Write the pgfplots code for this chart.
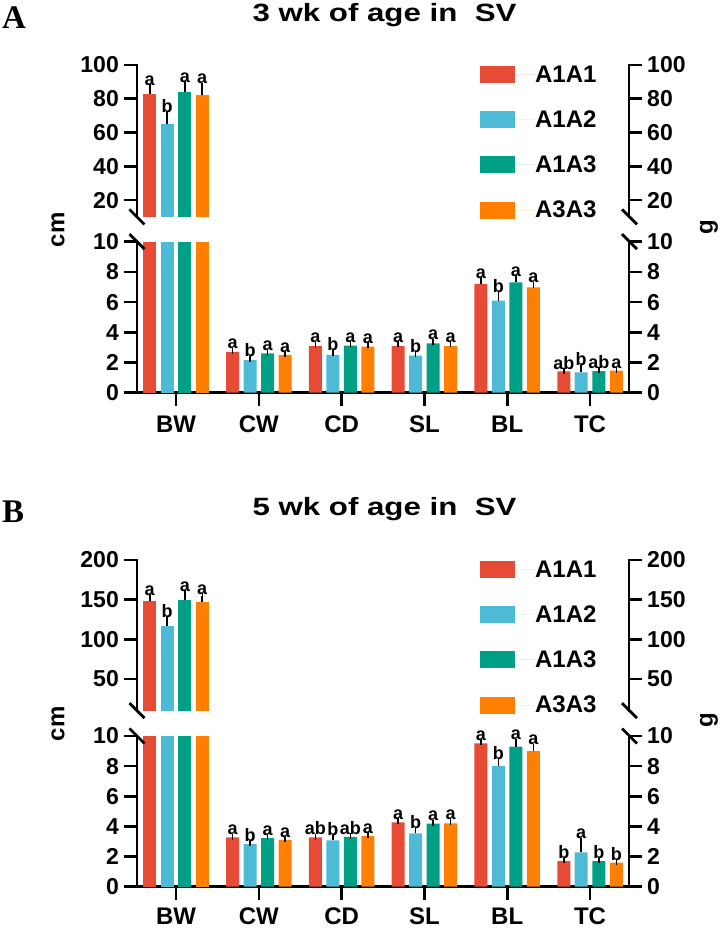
\documentclass[border=0pt]{standalone}
\usepackage{fontspec}
\setmainfont{Liberation Sans}
\newfontfamily\titlefont[FakeStretch=1.25]{Liberation Sans}
\newfontfamily\serifbold{Liberation Serif}
\usepackage{pgfplots}
\usepackage{pgfplotstable}
\pgfplotsset{compat=1.18}

\definecolor{cR}{HTML}{E64B35}
\definecolor{cB}{HTML}{4DBBD5}
\definecolor{cG}{HTML}{00A087}
\definecolor{cO}{HTML}{FF8000}

% 3 wk of age: mean, upper error, letter
\pgfplotstableread{
x r re rl b be bl g ge gl o oe ol
0 82.8 4.0 a 65.0 5.8 b 84.2 4.3 a 82.2 5.6 a
1 2.71 0.06 a 2.16 0.10 b 2.60 0.06 a 2.50 0.07 a
2 3.09 0.10 a 2.50 0.15 b 3.11 0.10 a 3.05 0.10 a
3 3.09 0.12 a 2.45 0.08 b 3.27 0.10 a 3.09 0.12 a
4 7.20 0.25 a 6.09 0.40 b 7.30 0.27 a 6.98 0.17 a
5 1.41 0.03 ab 1.35 0.30 b 1.43 0.04 ab 1.46 0.05 a
}\tabA
% 5 wk of age
\pgfplotstableread{
x r re rl b be bl g ge gl o oe ol
0 147.7 5.6 a 116.2 9.4 b 149.9 8.4 a 146.5 7.5 a
1 3.27 0.04 a 2.83 0.05 b 3.23 0.07 a 3.10 0.05 a
2 3.27 0.04 ab 3.07 0.20 b 3.30 0.05 ab 3.36 0.04 a
3 4.27 0.08 a 3.54 0.20 b 4.18 0.08 a 4.20 0.12 a
4 9.51 0.09 a 8.01 0.33 b 9.29 0.33 a 9.00 0.29 a
5 1.70 0.04 b 2.28 0.77 a 1.70 0.04 b 1.59 0.04 b
}\tabB

\newcommand\tk{\fontsize{23}{23}\selectfont\bfseries}
\newcommand\cat{\fontsize{24}{24}\selectfont\bfseries}
\newcommand\lb{\fontsize{18}{18}\selectfont\bfseries}

\pgfplotsset{
  seg/.style={scale only axis, width=492pt, xmin=-0.471, xmax=5.471,
    anchor=south west, tick align=outside, major tick length=13pt,
    tick style={black, line width=2.6pt},
    axis line style={black, line width=2.8pt, line cap=rect},
    every outer x axis line/.append style={-},
    every outer y axis line/.append style={-},
    tick label style={font=\tk, inner sep=0pt},
    yticklabel shift=5pt, xticklabel shift=10pt,
    /pgf/number format/assume math mode=true,
    ybar, bar width=0.157},
  leg/.style={
    legend style={at={(rel axis cs:0.697,0.995)}, anchor=north west,
      draw=none, fill=none, inner sep=0pt, row sep=26.8pt,
      font=\cat, nodes={inner sep=0pt}, cells={anchor=west}}},
}

% bars with upper error bars and letters
\newcommand\errbars[5]{%
  \addplot[fill=#3, draw=none, bar shift=#4,
    error bars/.cd, y dir=plus, y explicit,
    error bar style={black, line width=1.5pt},
    error mark options={black, line width=1.5pt, mark size=3pt}]
    table[x=x, y=#2, y error=#2e, restrict x to domain=#5] {#1};
  \addplot[draw=none, fill=none, bar shift=#4, forget plot,
    nodes near coords, point meta=explicit symbolic,
    nodes near coords style={font=\lb, text=black, anchor=south, inner sep=1.5pt}]
    table[x=x, y expr=\thisrow{#2}+\thisrow{#2e}, meta=#2l, restrict x to domain=#5] {#1};
}
% BW bars in the lower segment, cut at the break
\newcommand\clampbar[4]{%
  \addplot[fill=#3, draw=none, bar shift=#4, forget plot]
    table[x=x, y expr={min(\thisrow{#2},10)}, restrict x to domain=0:0] {#1};
}

\begin{document}
\begin{tikzpicture}
\useasboundingbox (0pt,0pt) rectangle (722pt,928pt);

% ---------------- A ----------------
\node[anchor=base west, inner sep=0pt, font=\fontsize{33}{33}\serifbold\bfseries] at (2pt,899pt) {A};
\node[anchor=base, inner sep=0pt, font=\fontsize{25}{25}\titlefont\bfseries] at (384.5pt,906pt) {3 wk of age in\ \ SV};

\begin{axis}[seg, leg, at={(137pt,711pt)}, height=152pt, ymin=10, ymax=100,
  ytick={20,40,...,100}, axis y line*=left, axis x line=none,
  legend image code/.code={\fill[#1] (0pt,-8.5pt) rectangle (35pt,8.5pt); \path (0pt,0pt) -- (55pt,0pt);}]
\errbars{\tabA}{r}{cR}{-0.317}{0:0}
\errbars{\tabA}{b}{cB}{-0.106}{0:0}
\errbars{\tabA}{g}{cG}{0.106}{0:0}
\errbars{\tabA}{o}{cO}{0.317}{0:0}
\legend{A1A1,A1A2,A1A3,A3A3}
\end{axis}
\begin{axis}[seg, at={(137pt,711pt)}, height=152pt, ymin=10, ymax=100,
  ytick={20,40,...,100}, axis y line*=right, axis x line=none]
\end{axis}

\begin{axis}[seg, at={(137pt,535.3pt)}, height=151pt, ymin=0, ymax=10,
  ytick={0,2,...,10}, axis y line*=left, axis x line*=bottom,
  xtick={0,...,5}, xticklabels={BW,CW,CD,SL,BL,TC},
  xticklabel style={font=\cat}, clip=false]
\clampbar{\tabA}{r}{cR}{-0.317}
\clampbar{\tabA}{b}{cB}{-0.106}
\clampbar{\tabA}{g}{cG}{0.106}
\clampbar{\tabA}{o}{cO}{0.317}
\errbars{\tabA}{r}{cR}{-0.317}{1:5}
\errbars{\tabA}{b}{cB}{-0.106}{1:5}
\errbars{\tabA}{g}{cG}{0.106}{1:5}
\errbars{\tabA}{o}{cO}{0.317}{1:5}
\end{axis}
\begin{axis}[seg, at={(137pt,535.3pt)}, height=151pt, ymin=0, ymax=10,
  ytick={0,2,...,10}, axis y line*=right, axis x line=none]
\end{axis}

\foreach \y in {711,686.3} {
  \draw[line width=2.8pt] (129.5pt,\y pt+7.5pt) -- (144.5pt,\y pt-7.5pt);
  \draw[line width=2.8pt] (622pt,\y pt+7.5pt) -- (637pt,\y pt-7.5pt);
}
\node[rotate=90, font=\cat] at (58pt,698pt) {cm};
\node[rotate=90, font=\cat] at (709pt,701pt) {g};

% ---------------- B ----------------
\node[anchor=base west, inner sep=0pt, font=\fontsize{33}{33}\serifbold\bfseries] at (2pt,405pt) {B};
\node[anchor=base, inner sep=0pt, font=\fontsize{25}{25}\titlefont\bfseries] at (384.5pt,412pt) {5 wk of age in\ \ SV};

\begin{axis}[seg, leg, at={(137pt,217.3pt)}, height=150.7pt, ymin=10, ymax=200,
  ytick={50,100,150,200}, axis y line*=left, axis x line=none,
  legend image code/.code={\fill[#1] (0pt,-8.5pt) rectangle (35pt,8.5pt); \path (0pt,0pt) -- (55pt,0pt);}]
\errbars{\tabB}{r}{cR}{-0.317}{0:0}
\errbars{\tabB}{b}{cB}{-0.106}{0:0}
\errbars{\tabB}{g}{cG}{0.106}{0:0}
\errbars{\tabB}{o}{cO}{0.317}{0:0}
\legend{A1A1,A1A2,A1A3,A3A3}
\end{axis}
\begin{axis}[seg, at={(137pt,217.3pt)}, height=150.7pt, ymin=10, ymax=200,
  ytick={50,100,150,200}, axis y line*=right, axis x line=none]
\end{axis}

\begin{axis}[seg, at={(137pt,41.3pt)}, height=150.7pt, ymin=0, ymax=10,
  ytick={0,2,...,10}, axis y line*=left, axis x line*=bottom,
  xtick={0,...,5}, xticklabels={BW,CW,CD,SL,BL,TC},
  xticklabel style={font=\cat}, xticklabel shift=8pt, clip=false]
\clampbar{\tabB}{r}{cR}{-0.317}
\clampbar{\tabB}{b}{cB}{-0.106}
\clampbar{\tabB}{g}{cG}{0.106}
\clampbar{\tabB}{o}{cO}{0.317}
\errbars{\tabB}{r}{cR}{-0.317}{1:5}
\errbars{\tabB}{b}{cB}{-0.106}{1:5}
\errbars{\tabB}{g}{cG}{0.106}{1:5}
\errbars{\tabB}{o}{cO}{0.317}{1:5}
\end{axis}
\begin{axis}[seg, at={(137pt,41.3pt)}, height=150.7pt, ymin=0, ymax=10,
  ytick={0,2,...,10}, axis y line*=right, axis x line=none]
\end{axis}

\foreach \y in {217.3,192} {
  \draw[line width=2.8pt] (129.5pt,\y pt+7.5pt) -- (144.5pt,\y pt-7.5pt);
  \draw[line width=2.8pt] (622pt,\y pt+7.5pt) -- (637pt,\y pt-7.5pt);
}
\node[rotate=90, font=\cat] at (58pt,204pt) {cm};
\node[rotate=90, font=\cat] at (709pt,208pt) {g};
\end{tikzpicture}
\end{document}
